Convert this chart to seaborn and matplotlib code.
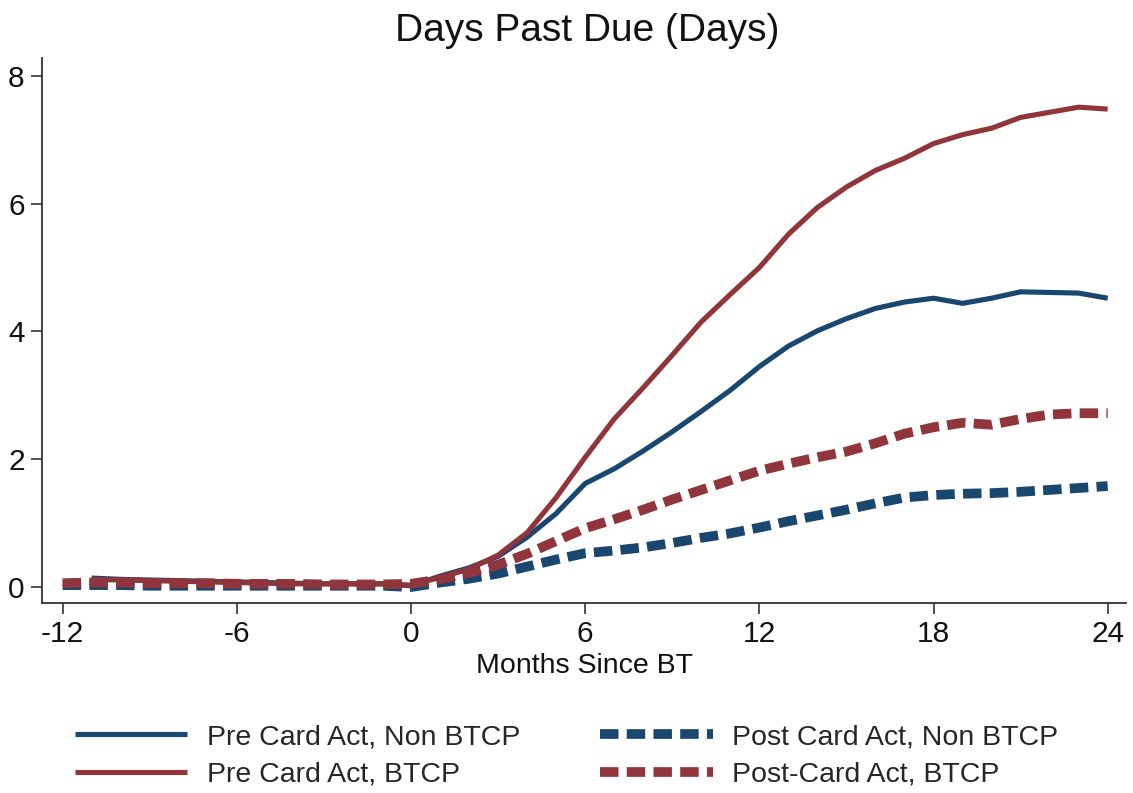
import numpy as np
import pandas as pd
import matplotlib
matplotlib.use("Agg")
import matplotlib.pyplot as plt
import seaborn as sns

# Months relative to the balance transfer
months_pre = list(range(-11, 25))
months_post = list(range(-12, 25))

# Pre card activation groups (start at month -11)
pre_non_btcp = [0.14, 0.12, 0.11, 0.10, 0.09, 0.08, 0.07, 0.06, 0.05, 0.05, 0.05, 0.02,
                0.17, 0.30, 0.48, 0.78, 1.15, 1.62, 1.85, 2.13, 2.43, 2.75, 3.08, 3.45,
                3.77, 4.01, 4.20, 4.36, 4.46, 4.52, 4.44, 4.52, 4.62, 4.61, 4.60, 4.52]
pre_btcp = [0.12, 0.11, 0.10, 0.09, 0.08, 0.07, 0.06, 0.05, 0.05, 0.05, 0.05, 0.03,
            0.15, 0.28, 0.50, 0.85, 1.40, 2.03, 2.63, 3.12, 3.63, 4.15, 4.58, 5.00,
            5.52, 5.94, 6.26, 6.52, 6.71, 6.94, 7.08, 7.18, 7.35, 7.43, 7.51, 7.48]

# Post card activation groups (start at month -12)
post_non_btcp = [0.03, 0.03, 0.03, 0.02, 0.02, 0.02, 0.02, 0.02, 0.02, 0.02, 0.02, 0.02, 0.00,
                 0.07, 0.13, 0.21, 0.32, 0.43, 0.53, 0.57, 0.62, 0.69, 0.77, 0.84, 0.93,
                 1.03, 1.12, 1.21, 1.31, 1.40, 1.44, 1.46, 1.47, 1.49, 1.52, 1.55, 1.58]
post_btcp = [0.06, 0.07, 0.07, 0.06, 0.06, 0.06, 0.05, 0.05, 0.05, 0.04, 0.04, 0.04, 0.05,
             0.12, 0.22, 0.35, 0.52, 0.72, 0.92, 1.06, 1.21, 1.37, 1.52, 1.67, 1.82,
             1.93, 2.03, 2.12, 2.25, 2.40, 2.50, 2.57, 2.54, 2.63, 2.70, 2.72, 2.72]

labels = ["Pre Card Act, Non BTCP", "Pre Card Act, BTCP",
          "Post Card Act, Non BTCP", "Post-Card Act, BTCP"]
x_ticks = [-12, -6, 0, 6, 12, 18, 24]
y_ticks = [0, 2, 4, 6, 8]

NAVY = "#1a476f"
MAROON = "#90353b"

sns.set_theme(style="white")
plt.rcParams["font.family"] = ["Liberation Sans", "DejaVu Sans"]

fig = plt.figure(figsize=(11.33, 7.93), dpi=100)
ax = fig.add_axes([0.0371, 0.2396, 0.9567, 0.6873])

series = [
    (months_pre, pre_non_btcp, NAVY, "solid"),
    (months_pre, pre_btcp, MAROON, "solid"),
    (months_post, post_non_btcp, NAVY, "dash"),
    (months_post, post_btcp, MAROON, "dash"),
]

handles = []
for (xs, ys, col, kind), lab in zip(series, labels):
    df = pd.DataFrame({"month": xs, "dpd": ys})
    lw = 3.7 if kind == "solid" else 7.0
    sns.lineplot(data=df, x="month", y="dpd", ax=ax, color=col, lw=lw,
                 label=lab, legend=False, solid_capstyle="butt")
    line = ax.lines[-1]
    if kind == "dash":
        line.set_dashes((1.9, 0.85))
        line.set_dash_capstyle("butt")
    handles.append(line)

ax.set_xlim(-12.71, 24.63)
ax.set_ylim(-0.25, 8.28)
ax.set_xticks(x_ticks)
ax.set_xticklabels([str(t) for t in x_ticks])
ax.set_yticks(y_ticks)
ax.set_yticklabels([str(t) for t in y_ticks])
ax.tick_params(axis="both", which="major", direction="out", length=8, width=1.2,
               color="#333333", labelsize=21.5, pad=4.5, labelcolor="#111111")
ax.tick_params(axis="x", bottom=True)
ax.tick_params(axis="y", left=True)

for side in ["top", "right"]:
    ax.spines[side].set_visible(False)
for side in ["left", "bottom"]:
    ax.spines[side].set_color("#333333")
    ax.spines[side].set_linewidth(1.3)

ax.set_xlabel("Months Since BT", fontsize=20.5, color="#111111", labelpad=3)
ax.set_ylabel("")
fig.text(587 / 1133, 1 - 31 / 793, "Days Past Due (Days)", ha="center", va="center",
         fontsize=28, color="#111111")

fig.legend(handles=handles, labels=labels, ncol=2, loc="center left",
           bbox_to_anchor=(75 / 1133, 1 - 756 / 793), frameon=False, fontsize=20.5,
           borderpad=0, borderaxespad=0,
           handlelength=3.95, handletextpad=0.67, columnspacing=2.82,
           labelspacing=0.42)

fig.savefig("out.png", dpi=100, facecolor="white")
